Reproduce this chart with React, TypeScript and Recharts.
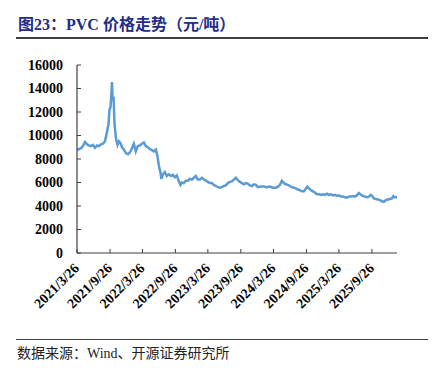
import { LineChart, Line, XAxis, YAxis } from 'recharts';

// PVC 价格（元/吨），按图读取的近似值
const dates = [
  '2021-03-26', '2021-04-06', '2021-04-17', '2021-04-28', '2021-05-10', '2021-05-21', '2021-06-01', '2021-06-12',
  '2021-06-23', '2021-07-04', '2021-07-16', '2021-07-27', '2021-08-07', '2021-08-18', '2021-08-29', '2021-09-09',
  '2021-09-18', '2021-09-23', '2021-09-29', '2021-10-05', '2021-10-07', '2021-10-11', '2021-10-16', '2021-10-21',
  '2021-10-30', '2021-11-07', '2021-11-15', '2021-11-24', '2021-12-02', '2021-12-13', '2021-12-24', '2022-01-04',
  '2022-01-15', '2022-01-26', '2022-02-06', '2022-02-17', '2022-02-28', '2022-03-12', '2022-03-23', '2022-04-03',
  '2022-04-14', '2022-04-25', '2022-05-06', '2022-05-18', '2022-05-29', '2022-06-09', '2022-06-17', '2022-06-26',
  '2022-07-04', '2022-07-10', '2022-07-18', '2022-07-29', '2022-08-09', '2022-08-20', '2022-09-01', '2022-09-12',
  '2022-09-23', '2022-10-04', '2022-10-15', '2022-10-24', '2022-11-01', '2022-11-12', '2022-11-23', '2022-12-04',
  '2022-12-15', '2022-12-27', '2023-01-07', '2023-01-18', '2023-01-29', '2023-02-09', '2023-02-20', '2023-03-04',
  '2023-03-15', '2023-03-26', '2023-04-06', '2023-04-17', '2023-04-28', '2023-05-10', '2023-05-21', '2023-06-01',
  '2023-06-12', '2023-06-23', '2023-07-04', '2023-07-16', '2023-07-27', '2023-08-07', '2023-08-18', '2023-08-29',
  '2023-09-09', '2023-09-21', '2023-10-02', '2023-10-13', '2023-10-24', '2023-11-04', '2023-11-15', '2023-11-26',
  '2023-12-08', '2023-12-19', '2023-12-30', '2024-01-16', '2024-02-01', '2024-02-18', '2024-03-06', '2024-03-23',
  '2024-04-08', '2024-04-20', '2024-05-01', '2024-05-12', '2024-05-23', '2024-06-03', '2024-06-14', '2024-06-26',
  '2024-07-07', '2024-07-18', '2024-07-29', '2024-08-09', '2024-08-20', '2024-08-31', '2024-09-12', '2024-09-23',
  '2024-10-01', '2024-10-10', '2024-10-21', '2024-11-01', '2024-11-12', '2024-11-23', '2024-12-04', '2024-12-16',
  '2024-12-27', '2025-01-07', '2025-01-18', '2025-01-29', '2025-02-09', '2025-02-20', '2025-03-04', '2025-03-15',
  '2025-03-26', '2025-04-06', '2025-04-17', '2025-04-28', '2025-05-09', '2025-05-21', '2025-06-01', '2025-06-12',
  '2025-06-23', '2025-07-04', '2025-07-15', '2025-07-27', '2025-08-07', '2025-08-18', '2025-08-29', '2025-09-09',
  '2025-09-20', '2025-09-28', '2025-10-07', '2025-10-18', '2025-10-30', '2025-11-10', '2025-11-21', '2025-12-02',
  '2025-12-13', '2025-12-24', '2026-01-04', '2026-01-16', '2026-01-24', '2026-02-01', '2026-02-13',
];

const prices = [
  8750, 8850, 8900, 9100, 9450, 9250, 9150, 9100,
  9200, 8950, 9150, 9100, 9250, 9300, 9500, 10300,
  11000, 12200, 12400, 13800, 14550, 13000, 13300, 11000,
  9700, 9200, 9500, 9350, 9000, 8800, 8500, 8400,
  8550, 8900, 9300, 8650, 9100, 9150, 9300, 9400,
  9100, 9000, 8850, 8750, 8650, 8800, 8300, 7400,
  6900, 6300, 6700, 6900, 6550, 6700, 6550, 6650,
  6450, 6600, 6100, 5800, 6000, 5950, 6150, 6150,
  6300, 6250, 6400, 6550, 6250, 6250, 6400, 6250,
  6150, 6050, 5950, 5950, 5800, 5700, 5600, 5550,
  5600, 5700, 5750, 5950, 6050, 6100, 6250, 6400,
  6200, 6050, 5950, 5850, 5950, 5900, 5750, 5700,
  5850, 5800, 5600, 5650, 5650, 5600, 5650, 5550,
  5550, 5650, 5800, 6150, 5950, 5850, 5800, 5700,
  5600, 5550, 5500, 5400, 5350, 5250, 5250, 5500,
  5650, 5500, 5350, 5250, 5150, 5000, 5000, 4950,
  5000, 4950, 5050, 4950, 5000, 4900, 4950, 4850,
  4900, 4800, 4800, 4750, 4700, 4800, 4800, 4850,
  4800, 4900, 5100, 4950, 4850, 4800, 4750, 4800,
  4950, 4850, 4650, 4600, 4550, 4500, 4400, 4350,
  4500, 4550, 4600, 4650, 4850, 4750, 4750,
];

const tickLabels = [
  '2021/3/26', '2021/9/26', '2022/3/26', '2022/9/26', '2023/3/26',
  '2023/9/26', '2024/3/26', '2024/9/26', '2025/3/26', '2025/9/26',
];

const yTicks = [0, 2000, 4000, 6000, 8000, 10000, 12000, 14000, 16000];

const toTs = (s: string) => {
  const [y, m, d] = s.split(/[-/]/).map(Number);
  return Date.UTC(y, m - 1, d);
};

const data = dates.map((d, i) => ({ t: toTs(d), price: prices[i] }));
const xTicks = tickLabels.map(toTs);

const serif = '"Times New Roman", "Liberation Serif", "Noto Sans CJK SC", serif';
const axisColor = '#404040';

const XTick = (props: any) => {
  const { x, y, payload } = props;
  const idx = xTicks.indexOf(payload.value);
  const ax = x + 3;
  const ay = y + 16;
  return (
    <text
      x={ax}
      y={ay}
      transform={`rotate(-45 ${ax} ${ay})`}
      textAnchor="end"
      fontFamily={serif}
      fontWeight="bold"
      fontSize={14}
      fill="#000"
    >
      {idx >= 0 ? tickLabels[idx] : ''}
    </text>
  );
};

export default function App() {
  return (
    <div
      style={{
        position: 'absolute',
        left: 0,
        top: 0,
        width: 442,
        height: 368,
        background: '#fff',
        fontFamily: serif,
      }}
    >
      <div
        style={{
          position: 'absolute',
          left: 18,
          top: 14,
          fontSize: 16,
          fontWeight: 'bold',
          color: '#1F2D86',
          whiteSpace: 'nowrap',
          lineHeight: '22px',
        }}
      >
        图23：PVC 价格走势（元/吨）
      </div>
      <div style={{ position: 'absolute', left: 16, top: 37, width: 412, height: 1.5, background: '#404040' }} />

      <div style={{ position: 'absolute', left: 0, top: 0 }}>
        <LineChart width={442} height={368} data={data} margin={{ top: 65, right: 45, left: 0, bottom: 0 }}>
          <XAxis
            dataKey="t"
            type="number"
            scale="time"
            domain={[toTs('2021-03-26'), toTs('2026-02-13')]}
            ticks={xTicks}
            tick={<XTick />}
            interval={0}
            height={115}
            tickSize={-4}
            tickMargin={4}
            axisLine={{ stroke: axisColor, strokeWidth: 1.2 }}
            tickLine={{ stroke: axisColor }}
            allowDataOverflow
          />
          <YAxis
            type="number"
            domain={[0, 16000]}
            ticks={yTicks}
            interval={0}
            width={77}
            tickSize={-4}
            tickMargin={18}
            axisLine={{ stroke: axisColor, strokeWidth: 1.2 }}
            tickLine={{ stroke: axisColor }}
            tick={{ fontSize: 14, fontWeight: 'bold', fill: '#000', fontFamily: serif }}
          />
          <Line
            type="linear"
            dataKey="price"
            stroke="#5B9BD5"
            strokeWidth={2.5}
            dot={false}
            isAnimationActive={false}
          />
        </LineChart>
      </div>

      <div style={{ position: 'absolute', left: 16, top: 339, width: 412, height: 1.2, background: '#404040' }} />
      <div
        style={{
          position: 'absolute',
          left: 17,
          top: 344,
          fontSize: 14,
          color: '#222',
          whiteSpace: 'nowrap',
          lineHeight: '20px',
        }}
      >
        数据来源：Wind、开源证券研究所
      </div>
    </div>
  );
}
